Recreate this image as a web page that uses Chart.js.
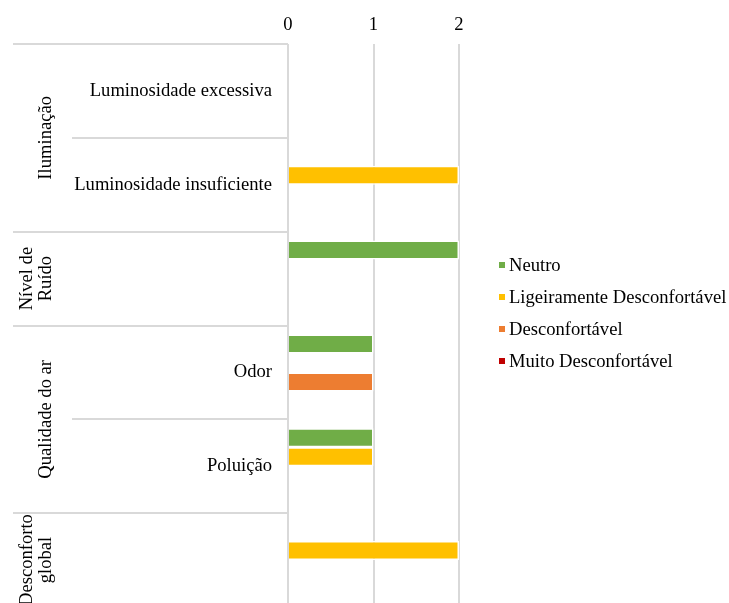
<!DOCTYPE html>
<html>
<head>
<meta charset="utf-8">
<script src="https://cdn.jsdelivr.net/npm/chart.js@4"></script>
<style>
  html, body { margin: 0; padding: 0; background: #fff; overflow: hidden; }
  #wrap { position: relative; width: 729px; height: 607px; }
</style>
</head>
<body>
<div id="wrap"><canvas id="chart"></canvas></div>
<script>
// Sub categories on the y axis (blank where a group has a single row)
const categories = ['Luminosidade excessiva', 'Luminosidade insuficiente', '', 'Odor', 'Poluição', ''];
// Outer groups and how many rows each one spans
const groupLabels = [['Iluminação'], ['Nível de', 'Ruído'], ['Qualidade do ar'], ['Desconforto', 'global']];
const groupSizes = [2, 1, 2, 1];

const neutro = [0, 0, 2, 1, 1, 0];
const ligeiramente = [0, 2, 0, 0, 1, 2];
const desconfortavel = [0, 0, 0, 1, 0, 0];
const muitoDesconfortavel = [0, 0, 0, 0, 0, 0];

const xTicks = [0, 1, 2];

const FONT = 'Liberation Serif, Times New Roman, serif';
const FONT_SIZE = 18.6;
const GRID = '#d9d9d9';

// Multi-level labels and divider lines on the left
const groupAxis = {
  id: 'groupAxis',
  afterDraw(chart) {
    const ctx = chart.ctx;
    const y = chart.scales.y;
    const area = chart.chartArea;
    const step = y.getPixelForValue(1) - y.getPixelForValue(0);
    const hline = (x0, yy) => {
      ctx.beginPath();
      ctx.moveTo(x0, Math.round(yy));
      ctx.lineTo(area.left, Math.round(yy));
      ctx.stroke();
    };
    ctx.save();
    ctx.strokeStyle = GRID;
    ctx.lineWidth = 2;
    hline(13, area.top);
    let start = 0;
    groupSizes.forEach((n, g) => {
      const top = y.getPixelForValue(start) - step / 2;
      const bottom = y.getPixelForValue(start + n - 1) + step / 2;
      for (let k = 1; k < n; k++) {
        hline(72, y.getPixelForValue(start + k) - step / 2);
      }
      if (g < groupSizes.length - 1) hline(13, bottom);
      // rotated group label
      const lines = groupLabels[g];
      const baselines = lines.length === 1 ? [51] : [32, 51];
      ctx.fillStyle = '#000';
      ctx.font = FONT_SIZE + 'px ' + FONT;
      ctx.textAlign = 'center';
      ctx.textBaseline = 'alphabetic';
      lines.forEach((txt, i) => {
        ctx.save();
        ctx.translate(baselines[i], (top + bottom) / 2);
        ctx.rotate(-Math.PI / 2);
        ctx.fillText(txt, 0, 0);
        ctx.restore();
      });
      start += n;
    });
    ctx.restore();
  }
};

// Legend on the right
const sideLegend = {
  id: 'sideLegend',
  afterDraw(chart) {
    const ctx = chart.ctx;
    ctx.save();
    ctx.font = FONT_SIZE + 'px ' + FONT;
    ctx.textAlign = 'left';
    ctx.textBaseline = 'middle';
    chart.data.datasets.forEach((ds, i) => {
      const cy = 265 + i * 32;
      ctx.fillStyle = ds.backgroundColor;
      ctx.fillRect(499, cy - 3, 6, 6);
      ctx.fillStyle = '#000';
      ctx.fillText(ds.label, 509, cy + 1);
    });
    ctx.restore();
  }
};

const barStyle = {
  borderColor: '#ffffff',
  borderWidth: 1.5,
  barPercentage: 1,
  categoryPercentage: 0.81
};

new Chart(document.getElementById('chart'), {
  type: 'bar',
  data: {
    labels: categories,
    datasets: [
      { label: 'Neutro', data: neutro, backgroundColor: '#70AD47', ...barStyle },
      { label: 'Ligeiramente Desconfortável', data: ligeiramente, backgroundColor: '#FFC000', ...barStyle },
      { label: 'Desconfortável', data: desconfortavel, backgroundColor: '#ED7D31', ...barStyle },
      { label: 'Muito Desconfortável', data: muitoDesconfortavel, backgroundColor: '#C00000', ...barStyle }
    ]
  },
  options: {
    indexAxis: 'y',
    responsive: true,
    maintainAspectRatio: false,
    animation: false,
    layout: { padding: { top: 10, right: 270, bottom: 0, left: 0 } },
    plugins: {
      legend: { display: false },
      tooltip: { enabled: false }
    },
    scales: {
      x: {
        position: 'top',
        min: xTicks[0],
        max: xTicks[xTicks.length - 1],
        afterFit: scale => { scale.height = 34; },
        ticks: {
          stepSize: 1,
          padding: 8,
          color: '#000',
          font: { family: FONT, size: FONT_SIZE }
        },
        grid: { color: GRID, lineWidth: 2, drawTicks: false },
        border: { display: false }
      },
      y: {
        afterFit: scale => {
          scale.width = 288;
          scale.paddingTop = 0;
          scale.paddingBottom = 0;
        },
        ticks: {
          padding: 16,
          color: '#000',
          font: { family: FONT, size: FONT_SIZE }
        },
        grid: { display: false, drawTicks: false },
        border: { display: false }
      }
    }
  },
  plugins: [groupAxis, sideLegend]
});
</script>
</body>
</html>
